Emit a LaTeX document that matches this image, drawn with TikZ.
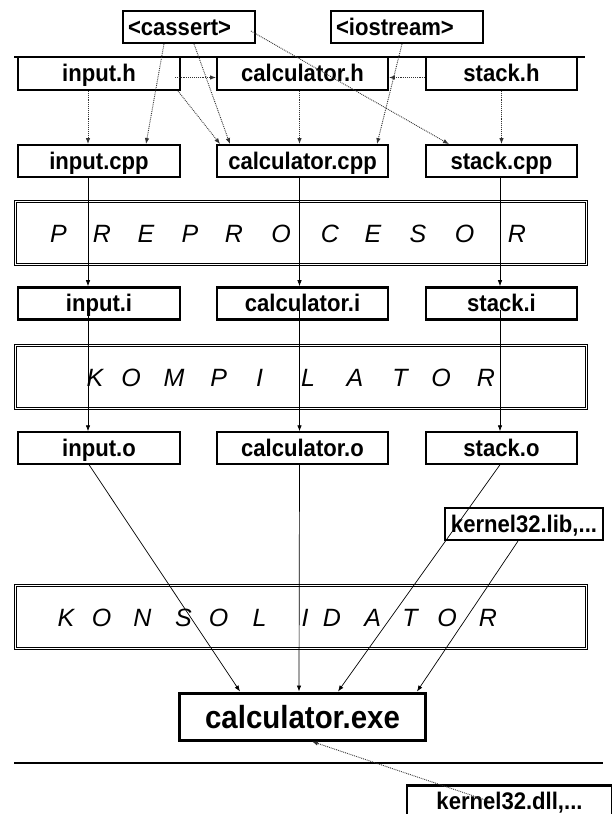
\documentclass[tikz,border=0pt]{standalone}
\usepackage{fontspec}
\setsansfont{Liberation Sans}
\newfontfamily\boldnarrow{Liberation Sans Bold}[FakeStretch=0.92]
\usetikzlibrary{arrows.meta}
\newcommand{\srcfont}{\boldnarrow\fontsize{24}{26}\selectfont}
\newcommand{\exefont}{\boldnarrow\fontsize{32}{34}\selectfont}
\newcommand{\stagefont}{\sffamily\itshape\fontsize{25}{27}\selectfont}
\tikzset{%
  srcbox/.style={draw, line width=1.8pt, font=\srcfont, inner sep=0pt,
    text height=16.5pt, text depth=0pt, minimum height=32pt},
  hdrbox/.style={srcbox, inner xsep=5pt, align=left},
  ibox/.style={srcbox, line width=2.6pt},
  obox/.style={srcbox, line width=1.4pt},
  stagebox/.style={draw, line width=0.7pt, minimum width=573pt,
    minimum height=65pt, inner sep=0pt},
  stageletter/.style={font=\stagefont, anchor=base, inner sep=0pt},
  dep/.style={densely dotted, line width=0.9pt, black!80, -{Latex[length=6pt,width=4.5pt]}},
  flow/.style={line width=0.7pt, -{Latex[length=6pt,width=4.5pt]}}
}
\begin{document}
\begin{tikzpicture}[x=1pt, y=-1pt]
  \useasboundingbox (0,0) rectangle (612,814);

  % headers
  \node[hdrbox, text width=122pt] (cassert) at (189,27) {<cassert>};
  \node[hdrbox, text width=142pt] (iostream) at (407,27) {<iostream>};
  \draw[line width=1.5pt] (14,57) -- (585,57);

  % sources
  \node[srcbox, minimum width=162pt, minimum height=33pt] (inh) at (99,73.5) {input.h};
  \node[srcbox, minimum width=171pt, minimum height=33pt] (calh) at (302.5,73.5) {calculator.h};
  \node[srcbox, minimum width=151pt, minimum height=33pt] (sth) at (501.5,73.5) {stack.h};

  \node[srcbox, minimum width=162pt] (incpp) at (99,161) {input.cpp};
  \node[srcbox, minimum width=171pt] (calcpp) at (302.5,161) {calculator.cpp};
  \node[srcbox, minimum width=151pt] (stcpp) at (501.5,161) {stack.cpp};

  % preprocesor
  \node[stagebox] (prep) at (300.5,232.5) {};
  \foreach \c/\x [count=\i] in {P/58.5, R/102, E/146, P/190, R/234, O/281,
      C/330, E/373, S/418, O/464.5, R/517}
    \node[stageletter] (prep\i) at (\x,242) {\c};

  \node[ibox, minimum width=162pt] (ini) at (99,303.5) {input.i};
  \node[ibox, minimum width=171pt] (cali) at (302.5,303.5) {calculator.i};
  \node[ibox, minimum width=151pt] (sti) at (501.5,303.5) {stack.i};

  % kompilator
  \node[stagebox] (komp) at (300.5,376.5) {};
  \foreach \c/\x [count=\i] in {K/95, O/131, M/174, P/218.6, I/259.6, L/308,
      A/355, T/400, O/441, R/486}
    \node[stageletter] (komp\i) at (\x,386) {\c};

  \node[obox, minimum width=162pt] (ino) at (99,448) {input.o};
  \node[obox, minimum width=171pt] (calo) at (302.5,448) {calculator.o};
  \node[obox, minimum width=151pt] (sto) at (501.5,448) {stack.o};

  \node[ibox, line width=2.2pt, minimum width=158pt] (klib) at (524,524) {kernel32.lib,...};

  % konsolidator
  \node[stagebox] (kons) at (300.5,616.5) {};
  \foreach \c/\x [count=\i] in {K/66, O/101.5, N/142.5, S/183.5, O/218.6, L/259.6,
      I/305, D/332, A/372.8, T/410, O/447, R/488}
    \node[stageletter] (kons\i) at (\x,626) {\c};

  % inner lines of the double frames
  \foreach \s in {prep, komp, kons}
    \draw[line width=0.7pt] ([xshift=2.4pt,yshift=-2.4pt]\s.north west)
      rectangle ([xshift=-2.4pt,yshift=2.4pt]\s.south east);

  \node[srcbox, line width=3pt, font=\exefont, text height=23pt,
    minimum width=246pt, minimum height=47pt] (exe) at (302.5,716.5) {calculator.exe};
  \draw[line width=2pt] (14,763) -- (603,763);
  \node[ibox, minimum width=205pt] (kdll) at (509.5,801.5) {kernel32.dll,...};

  % includes
  \draw[dep] ([xshift=-11pt]inh.south) -- ([xshift=-11pt]incpp.north);
  \draw[dep] ([xshift=-25pt]cassert.south) -- ([xshift=47pt]incpp.north);
  \draw[dep] ([xshift=5pt]cassert.south) -- ([xshift=-72.5pt]calcpp.north);
  \draw[dep] ([xshift=-6pt,yshift=-4pt]inh.east) -- ([yshift=-4pt]calh.west);
  \draw[dep] ([xshift=-3pt]inh.south east) -- ([xshift=4pt]calcpp.north west);
  \draw[dep] ([yshift=-4pt]sth.west) -- ([yshift=-4pt]calh.east);
  \draw[dep] ([xshift=-3pt]calh.south) -- ([xshift=-3pt]calcpp.north);
  \draw[dep] ([xshift=-5pt]iostream.south) -- ([xshift=74.5pt]calcpp.north);
  \draw[dep] ([xshift=-5pt,yshift=-4pt]cassert.east) -- ([xshift=-52.5pt]stcpp.north);
  \draw[dep] (sth.south) -- (stcpp.north);

  % build
  \draw[flow] ([xshift=-11pt]incpp.south) -- ([xshift=-11pt]ini.north);
  \draw[flow] ([xshift=-3pt]calcpp.south) -- ([xshift=-3pt]cali.north);
  \draw[flow] ([xshift=-1.5pt]stcpp.south) -- ([xshift=-1.5pt]sti.north);
  \draw[flow] ([xshift=-11pt,yshift=-6pt]ini.center) -- ([xshift=-11pt]ino.north);
  \draw[flow] ([xshift=-3pt,yshift=-6pt]cali.center) -- ([xshift=-3pt]calo.north);
  \draw[flow] ([xshift=-1.5pt,yshift=-6pt]sti.center) -- ([xshift=-1.5pt]sto.north);
  \draw[flow] ([xshift=-10pt]ino.south) -- ([xshift=-62.5pt]exe.north);
  \draw[flow] ([xshift=-3pt]calo.south) -- ([xshift=-3.5pt]exe.north);
  \draw[flow] ([xshift=-1.5pt]sto.south) -- ([xshift=35.5pt]exe.north);
  \draw[flow] ([xshift=-6pt]klib.south) -- ([xshift=114.5pt]exe.north);
  \draw[dep] ([xshift=-19.5pt]kdll.center) -- ([xshift=9.5pt]exe.south);
\end{tikzpicture}
\end{document}
